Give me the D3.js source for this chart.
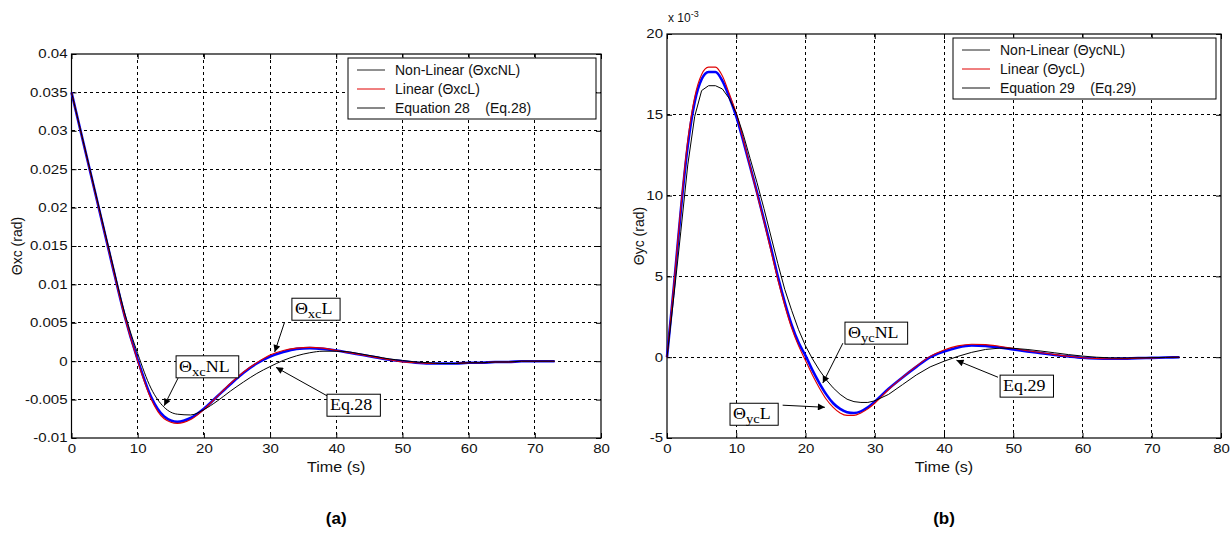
<!DOCTYPE html>
<html>
<head>
<meta charset="utf-8">
<script src="https://cdnjs.cloudflare.com/ajax/libs/d3/7.8.5/d3.min.js"></script>
<style>
	body { margin: 0; background: #fff; }
	svg { display: block; font-family: "Liberation Sans", Arial, sans-serif; }
</style>
</head>
<body>
<svg id="chart" width="1232" height="538"></svg>
<script>
// ---- panel (a): theta xc, rad ----
var timeA = [0, 2, 4, 6, 8, 10, 12, 14, 16, 18, 20, 22, 24, 26, 28, 30, 32, 34, 36, 38,
	40, 42, 44, 46, 48, 50, 52, 54, 56, 58, 60, 62, 64, 66, 68, 70, 72, 73];
var nonLinearA = [0.0350, 0.0277, 0.0204, 0.0131, 0.0060, 0.0002, -0.0046, -0.0072, -0.0079, -0.0074,
	-0.0062, -0.0046, -0.0030, -0.0015, -0.0003, 0.0006, 0.0012, 0.0016, 0.0017, 0.0016,
	0.0014, 0.0011, 0.0008, 0.0005, 0.0002, 0.0000, -0.0002, -0.0003, -0.0003, -0.0003,
	-0.0002, -0.0002, -0.0001, -0.0001, 0.0000, 0.0000, 0.0000, 0.0000];
var linearA = [0.0350, 0.0277, 0.0204, 0.0131, 0.0059, 0.0000, -0.0049, -0.0075, -0.0081, -0.0076,
	-0.0063, -0.0046, -0.0029, -0.0014, -0.0002, 0.0008, 0.0014, 0.0017, 0.0018, 0.0017,
	0.0014, 0.0011, 0.0008, 0.0005, 0.0002, -0.0001, -0.0002, -0.0003, -0.0003, -0.0003,
	-0.0002, -0.0002, -0.0001, -0.0001, 0.0000, 0.0000, 0.0000, 0.0000];
var eq28A = [0.0350, 0.0278, 0.0206, 0.0134, 0.0064, 0.0010, -0.0035, -0.0060, -0.0069, -0.0070,
	-0.0063, -0.0052, -0.0039, -0.0027, -0.0016, -0.0007, 0.0001, 0.0007, 0.0011, 0.0013,
	0.0013, 0.0012, 0.0009, 0.0006, 0.0003, 0.0001, -0.0001, -0.0002, -0.0003, -0.0003,
	-0.0002, -0.0002, -0.0001, -0.0001, 0.0000, 0.0000, 0.0000, 0.0000];
var yTicksA = [-0.01, -0.005, 0, 0.005, 0.01, 0.015, 0.02, 0.025, 0.03, 0.035, 0.04];
var yTickLabelsA = ["-0.01", "-0.005", "0", "0.005", "0.01", "0.015", "0.02", "0.025", "0.03", "0.035", "0.04"];
var legendA = ["Non-Linear (\u0398xcNL)", "Linear (\u0398xcL)", "Equation 28    (Eq.28)"];

// ---- panel (b): theta yc, x 10^-3 rad ----
var timeB = [0, 1, 2, 3, 4, 5, 6, 7, 8, 9, 10, 11, 12, 13, 14, 15, 16, 17, 18, 19, 20,
	21, 22, 23, 24, 25, 26, 27, 28, 29, 30, 32, 34, 36, 38, 40, 42, 44, 46, 48,
	50, 52, 54, 56, 58, 60, 62, 64, 66, 68, 70, 72, 74];
var nonLinearB = [0, 4.4, 9.1, 13.1, 15.8, 17.2, 17.65, 17.65, 17.1, 16.1, 14.9,
	13.4, 11.8, 10.2, 8.5, 6.8, 5.0, 3.4, 2.0, 0.9, 0.1,
	-0.8, -1.6, -2.3, -2.85, -3.2, -3.4, -3.45, -3.35, -3.1, -2.75,
	-1.95, -1.25, -0.6, 0.0, 0.35, 0.6, 0.72, 0.7, 0.6,
	0.48, 0.36, 0.25, 0.14, 0.05, -0.03, -0.08, -0.1, -0.09, -0.06, -0.04, -0.02, 0];
var linearB = [0, 4.5, 9.3, 13.4, 16.1, 17.5, 17.95, 17.95, 17.4, 16.3, 15.1,
	13.5, 11.8, 10.1, 8.4, 6.6, 4.8, 3.2, 1.8, 0.7, -0.2,
	-1.1, -1.9, -2.6, -3.1, -3.45, -3.6, -3.6, -3.45, -3.2, -2.85,
	-2.0, -1.25, -0.55, 0.05, 0.45, 0.7, 0.8, 0.78, 0.68,
	0.55, 0.4, 0.28, 0.16, 0.06, -0.03, -0.08, -0.1, -0.09, -0.06, -0.04, -0.02, 0];
var eq29B = [0, 3.8, 7.8, 11.9, 14.9, 16.5, 16.8, 16.8, 16.6, 16.0, 15.1,
	13.8, 12.3, 10.8, 9.2, 7.5, 5.8, 4.2, 2.9, 1.7, 0.7,
	-0.1, -0.8, -1.4, -1.9, -2.3, -2.6, -2.75, -2.8, -2.8, -2.7,
	-2.3, -1.7, -1.1, -0.6, -0.25, 0.05, 0.3, 0.48, 0.56,
	0.55, 0.48, 0.38, 0.27, 0.16, 0.07, 0.0, -0.04, -0.05, -0.04, -0.03, -0.01, 0];
var yTicksB = [-5, 0, 5, 10, 15, 20];
var yTickLabelsB = ["-5", "0", "5", "10", "15", "20"];
var legendB = ["Non-Linear (\u0398ycNL)", "Linear (\u0398ycL)", "Equation 29    (Eq.29)"];

var xTicks = [0, 10, 20, 30, 40, 50, 60, 70, 80];

var svg = d3.select("#chart");

// matlab export looks stretched sideways, mimic it on the small texts
function widen(sel, k) {
	sel.each(function() {
		var w = this.getComputedTextLength();
		d3.select(this).attr("textLength", w * k).attr("lengthAdjust", "spacingAndGlyphs");
	});
}

var defs = svg.append("defs");
defs.append("marker")
	.attr("id", "head")
	.attr("viewBox", "0 0 10 10")
	.attr("refX", 10).attr("refY", 5)
	.attr("markerWidth", 9).attr("markerHeight", 7)
	.attr("markerUnits", "userSpaceOnUse")
	.attr("orient", "auto")
	.append("path").attr("d", "M0,0L10,5L0,10z").attr("fill", "#000");

function panel(opts) {
	var x = d3.scaleLinear().domain([0, 80]).range([opts.left, opts.right]);
	var y = d3.scaleLinear().domain([opts.yTicks[0], opts.yTicks[opts.yTicks.length - 1]])
		.range([opts.bottom, opts.top]);
	var g = svg.append("g");

	g.append("rect")
		.attr("x", opts.left).attr("y", opts.top)
		.attr("width", opts.right - opts.left).attr("height", opts.bottom - opts.top)
		.attr("fill", "#fff");

	// dashed grid
	g.append("g").selectAll("line").data(xTicks.slice(1, -1)).join("line")
		.attr("x1", function(d) { return x(d); }).attr("x2", function(d) { return x(d); })
		.attr("y1", opts.top).attr("y2", opts.bottom)
		.attr("stroke", "#000").attr("stroke-width", 1).attr("stroke-dasharray", "3,3")
		.attr("shape-rendering", "crispEdges");
	g.append("g").selectAll("line").data(opts.yTicks.slice(1, -1)).join("line")
		.attr("y1", function(d) { return y(d); }).attr("y2", function(d) { return y(d); })
		.attr("x1", opts.left).attr("x2", opts.right)
		.attr("stroke", "#000").attr("stroke-width", 1).attr("stroke-dasharray", "3,3")
		.attr("shape-rendering", "crispEdges");

	// axes, ticks pointing in like matlab
	var xAxis = g.append("g").attr("transform", "translate(0," + opts.bottom + ")")
		.call(d3.axisBottom(x).tickValues(xTicks).tickSizeInner(-5).tickSizeOuter(0).tickPadding(6));
	g.append("g").attr("transform", "translate(0," + opts.top + ")")
		.call(d3.axisTop(x).tickValues(xTicks).tickSizeInner(-5).tickSizeOuter(0).tickFormat(""));
	var yAxis = g.append("g").attr("transform", "translate(" + opts.left + ",0)")
		.call(d3.axisLeft(y).tickValues(opts.yTicks).tickSizeInner(-5).tickSizeOuter(0).tickPadding(4)
			.tickFormat(function(d, i) { return opts.yTickLabels[i]; }));
	g.append("g").attr("transform", "translate(" + opts.right + ",0)")
		.call(d3.axisRight(y).tickValues(opts.yTicks).tickSizeInner(-5).tickSizeOuter(0).tickFormat(""));

	g.selectAll(".domain").remove();
	g.selectAll(".tick line").attr("stroke", "#000");
	[xAxis, yAxis].forEach(function(a) {
		a.selectAll("text").attr("fill", "#111").style("font-size", "12px")
			.style("font-family", "\"Liberation Sans\", Arial, sans-serif");
		widen(a.selectAll("text"), 1.25);
	});

	g.append("rect")
		.attr("x", opts.left).attr("y", opts.top)
		.attr("width", opts.right - opts.left).attr("height", opts.bottom - opts.top)
		.attr("fill", "none").attr("stroke", "#000").attr("stroke-width", 1.2);

	// curves
	var smooth = d3.line()
		.x(function(d) { return x(d[0]); })
		.y(function(d) { return y(d[1]); })
		.curve(d3.curveMonotoneX);
	var straight = d3.line()
		.x(function(d) { return x(d[0]); })
		.y(function(d) { return y(d[1]); });

	g.append("path").datum(d3.zip(opts.time, opts.nonLinear))
		.attr("d", smooth).attr("fill", "none").attr("stroke", "#0000ff").attr("stroke-width", 2.6);
	g.append("path").datum(d3.zip(opts.time, opts.linear))
		.attr("d", smooth).attr("fill", "none").attr("stroke", "#e00000").attr("stroke-width", 1.1);
	g.append("path").datum(d3.zip(opts.time, opts.eq))
		.attr("d", opts.eqKinked ? straight : smooth).attr("fill", "none").attr("stroke", "#000").attr("stroke-width", 1);

	// legend
	var lg = g.append("g");
	var legendColors = ["#222", "#e00000", "#111"];
	lg.append("rect")
		.attr("x", opts.legend.left).attr("y", opts.legend.top)
		.attr("width", opts.right - 5 - opts.legend.left).attr("height", 61)
		.attr("fill", "#fff").attr("stroke", "#000").attr("stroke-width", 1);
	opts.legendLabels.forEach(function(label, i) {
		var yy = opts.legend.top + 12 + i * 19;
		lg.append("line")
			.attr("x1", opts.legend.left + 9).attr("x2", opts.legend.left + 37)
			.attr("y1", yy).attr("y2", yy)
			.attr("stroke", legendColors[i]).attr("stroke-width", 1);
		lg.append("text")
			.attr("x", opts.legend.left + 47).attr("y", yy + 5)
			.style("font-size", "14px").style("white-space", "pre").attr("fill", "#111")
			.text(label);
	});

	// labels
	var xl = g.append("text")
		.attr("x", (opts.left + opts.right) / 2).attr("y", opts.bottom + 34)
		.attr("text-anchor", "middle").style("font-size", "14px").attr("fill", "#111")
		.text("Time (s)");
	widen(xl, 1.15);

	var ylab = g.append("text")
		.attr("transform", "translate(" + opts.yLabelX + "," + ((opts.top + opts.bottom) / 2) + ") rotate(-90)")
		.attr("text-anchor", "middle").style("font-size", "14px").attr("fill", "#111");
	ylab.append("tspan").text("\u0398");
	ylab.append("tspan").text(opts.yLabel);

	g.append("text")
		.attr("x", (opts.left + opts.right) / 2).attr("y", 524)
		.attr("text-anchor", "middle").style("font-size", "17px").style("font-weight", "bold")
		.text(opts.caption);

	if (opts.exponent) {
		var ex = g.append("text")
			.attr("x", opts.left + 1).attr("y", opts.top - 12)
			.style("font-size", "12px").attr("fill", "#111");
		ex.append("tspan").text("x 10");
		ex.append("tspan").attr("dy", -5).style("font-size", "9px").text(opts.exponent);
	}

	// callouts
	opts.notes.forEach(function(n) {
		var ng = g.append("g");
		ng.append("line")
			.attr("x1", x(n.from[0])).attr("y1", y(n.from[1]))
			.attr("x2", x(n.to[0])).attr("y2", y(n.to[1]))
			.attr("stroke", "#000").attr("stroke-width", 1)
			.attr("marker-end", "url(#head)");
		var bx = x(n.at[0]), by = y(n.at[1]);
		var rect = ng.append("rect").attr("fill", "#fff").attr("stroke", "#000").attr("stroke-width", 1);
		var t = ng.append("text")
			.attr("x", bx + 3).attr("y", by + 16)
			.style("font-family", "\"Liberation Serif\", \"Times New Roman\", serif")
			.style("font-size", "16px").attr("fill", "#000");
		t.append("tspan").text(n.main);
		if (n.sub) {
			t.append("tspan").attr("dy", 4).style("font-size", "13px").text(n.sub);
			t.append("tspan").attr("dy", -4).text(n.tail);
		}
		widen(t, 1.12);
		var w = t.node().getComputedTextLength() * 1.12;
		rect.attr("x", bx).attr("y", by)
			.attr("width", w + 6).attr("height", 22);
	});
}

panel({
	left: 71.5, right: 601, top: 54, bottom: 438,
	time: timeA, nonLinear: nonLinearA, linear: linearA, eq: eq28A, eqKinked: false,
	yTicks: yTicksA, yTickLabels: yTickLabelsA,
	legendLabels: legendA, legend: { left: 348, top: 58 },
	yLabel: "xc (rad)", yLabelX: 22, caption: "(a)",
	notes: [
		{ main: "\u0398", sub: "xc", tail: "L", at: [33.3, 0.0082], from: [32.2, 0.0051], to: [30.7, 0.0012] },
		{ main: "\u0398", sub: "xc", tail: "NL", at: [15.8, 0.0007], from: [16.1, -0.0022], to: [14.0, -0.0058] },
		{ main: "Eq.28", at: [38.6, -0.0043], from: [38.6, -0.0045], to: [30.9, -0.0008] }
	]
});

panel({
	left: 667, right: 1221, top: 34, bottom: 438,
	time: timeB, nonLinear: nonLinearB, linear: linearB, eq: eq29B, eqKinked: true,
	yTicks: yTicksB, yTickLabels: yTickLabelsB,
	legendLabels: legendB, legend: { left: 953, top: 38 },
	yLabel: "yc (rad)", yLabelX: 644, caption: "(b)", exponent: "-3",
	notes: [
		{ main: "\u0398", sub: "yc", tail: "NL", at: [25.7, 2.17], from: [25.4, 0.87], to: [22.5, -1.6] },
		{ main: "\u0398", sub: "yc", tail: "L", at: [9.1, -2.85], from: [16.7, -2.97], to: [22.8, -3.1] },
		{ main: "Eq.29", at: [48.1, -1.11], from: [47.8, -1.24], to: [41.8, -0.19] }
	]
});
</script>
</body>
</html>
